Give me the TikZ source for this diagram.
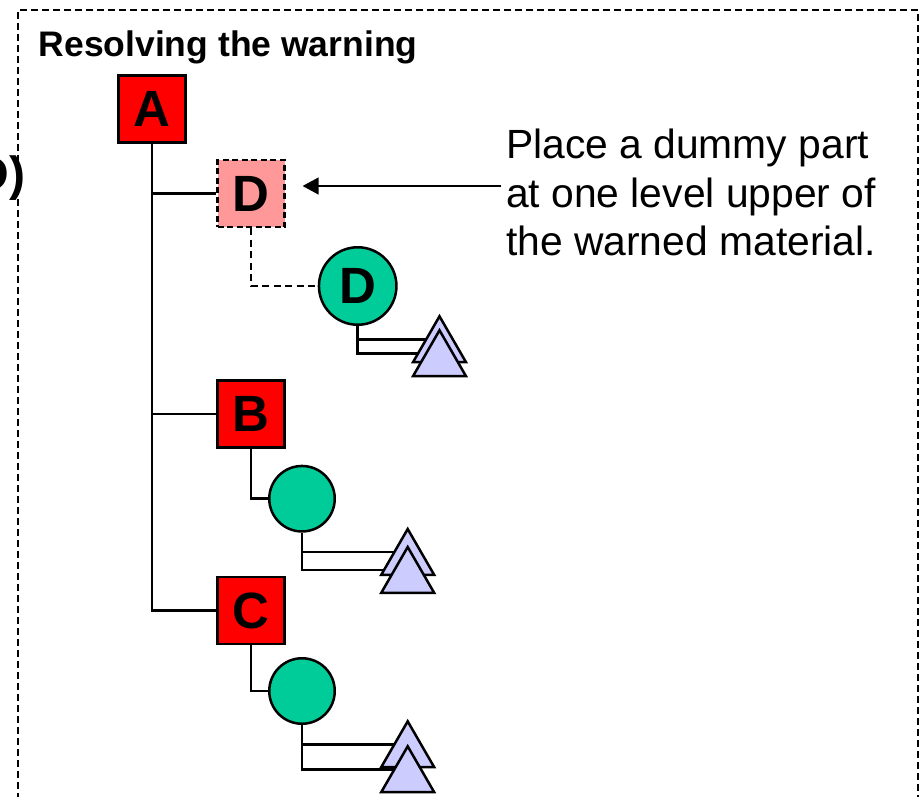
\documentclass[tikz,border=0pt]{standalone}
\usepackage{fontspec}
\setmainfont{Liberation Sans}
\usetikzlibrary{arrows.meta,shapes.geometric,backgrounds}

\definecolor{partred}{HTML}{FF0000}
\definecolor{dummypink}{HTML}{FF9999}
\definecolor{matgreen}{HTML}{00CC99}
\definecolor{subblue}{HTML}{CCCCFF}

\begin{document}
\begin{tikzpicture}[x=1pt, y=-1pt,
  part/.style={shape=rectangle, draw=black, line width=2.8pt, fill=partred, minimum size=67pt, inner sep=0pt, font=\bfseries\fontsize{51}{51}\selectfont},
  dummy/.style={part, fill=dummypink, dash pattern=on 6pt off 3.5pt},
  mat/.style={shape=circle, draw=black, line width=2.5pt, fill=matgreen, minimum size=65.5pt, inner sep=0pt, font=\bfseries\fontsize{51}{51}\selectfont},
  sub/.style={regular polygon, regular polygon sides=3, draw=black, line width=2.5pt, fill=subblue, minimum size=61pt, inner sep=0pt},
  link/.style={-, line width=2.5pt, draw=black},
  dummylink/.style={link, dash pattern=on 7pt off 4.5pt},
  pointer/.style={-{Triangle[length=16pt, width=16.5pt]}, line width=2.5pt},
  frame/.style={line width=2.3pt, dash pattern=on 7pt off 4pt}]
\useasboundingbox (0,0) rectangle (920,796);
\draw[frame] (18,800) -- (18,10) -- (918,10) -- (918,800);
\node[anchor=base east, inner sep=0pt, font=\bfseries\fontsize{48}{48}\selectfont] (cut) at (25.5,190) {D)};
\node[anchor=base west, inner sep=0pt, font=\bfseries\fontsize{35.5}{42}\selectfont] (title) at (38.5,56.7) {Resolving the warning};
% parts
\node[part] (A) at (152,109) {A};
\node[dummy] (Dd) at (251,193.5) {D};
\node[part] (B) at (251,414) {B};
\node[part] (C) at (251,610.5) {C};
% materials
\node[mat, minimum size=77.5pt] (cD) at (357.7,286) {D};
\node[mat] (cB) at (302,498.7) {};
\node[mat] (cC) at (302,691) {};
% sub items
\node[sub] (tD1) at (439.5,346.8) {};
\node[sub] (tD2) at (439.5,360.8) {};
\node[sub] (tB1) at (407.7,559.5) {};
\node[sub] (tB2) at (407.7,577.5) {};
\node[sub] (tC1) at (407.7,751.8) {};
\node[sub] (tC2) at (407.7,776.8) {};
% note
\node[anchor=base west, align=left, inner xsep=5pt, inner ysep=0pt, font=\fontsize{40.8}{48.5}\selectfont] (note) at (501,255.5) {Place a dummy part\\at one level upper of\\the warned material.};
\coordinate (tip) at (302.5,186);
\draw[pointer] (tip -| note.west) -- (tip);
\begin{scope}[on background layer]
\path[link] (A.south) edge[to path={|- (\tikztotarget)}] (Dd.west);
\path[link] (A.south) edge[to path={|- (\tikztotarget)}] (B.west);
\path[link] (A.south) edge[to path={|- (\tikztotarget)}] (C.west);
\path[dummylink] (Dd.south) edge[to path={|- (\tikztotarget)}] (cD.west);
\path[link] (B.south) edge[to path={|- (\tikztotarget)}] (cB.west);
\path[link] (C.south) edge[to path={|- (\tikztotarget)}] (cC.west);
\path[link] (cD.south) edge[to path={|- (\tikztotarget)}] ([yshift=7.5pt]tD1.center);
\path[link] (cD.south) edge[to path={|- (\tikztotarget)}] ([yshift=7.5pt]tD2.center);
\path[link] (cB.south) edge[to path={|- (\tikztotarget)}] ([yshift=7.5pt]tB1.center);
\path[link] (cB.south) edge[to path={|- (\tikztotarget)}] ([yshift=7.5pt]tB2.center);
\path[link] (cC.south) edge[to path={|- (\tikztotarget)}] ([yshift=7.5pt]tC1.center);
\path[link] (cC.south) edge[to path={|- (\tikztotarget)}] ([yshift=7.5pt]tC2.center);
\end{scope}
\end{tikzpicture}
\end{document}
